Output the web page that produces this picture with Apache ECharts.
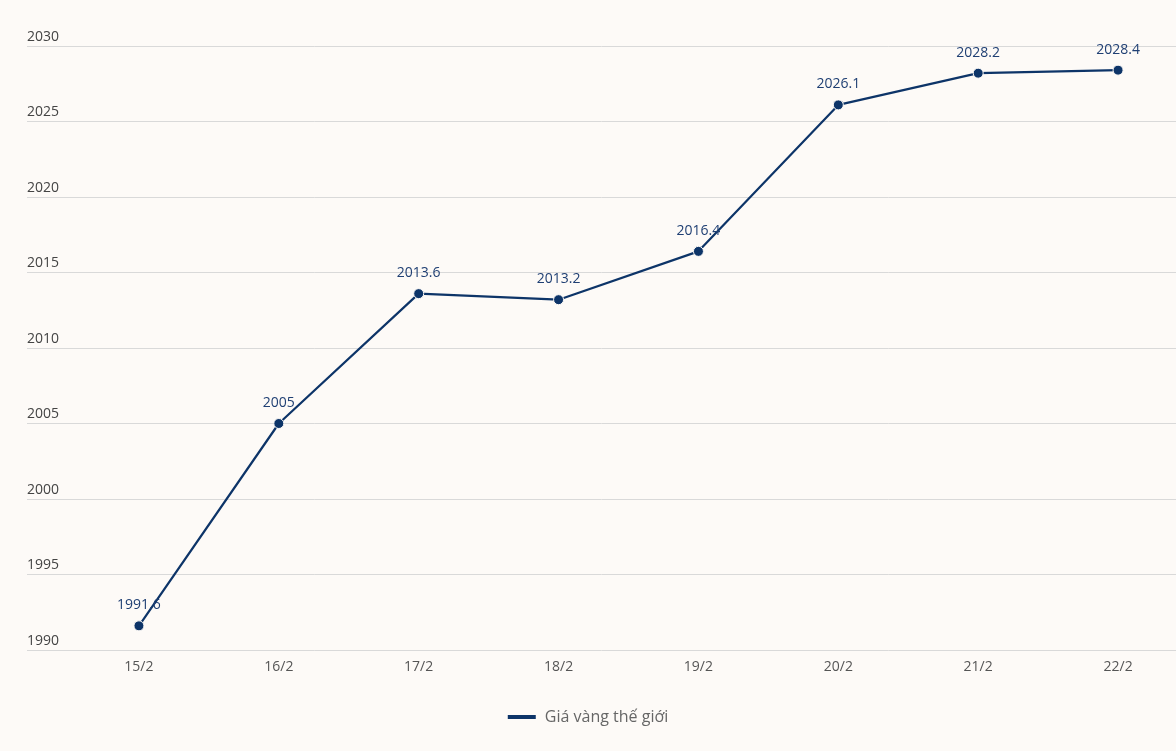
<!DOCTYPE html>
<html><head><meta charset="utf-8">
<script src="https://cdn.jsdelivr.net/npm/echarts@6/dist/echarts.min.js"></script>
<style>html,body{margin:0;padding:0;background:#fdfaf7}#c{width:1176px;height:751px}</style>
</head><body><div id="c"></div>
<script>
const categories = ['15/2','16/2','17/2','18/2','19/2','20/2','21/2','22/2'];
const seriesName = 'Giá vàng thế giới';
const goldPrice = [1991.6, 2005, 2013.6, 2013.2, 2016.4, 2026.1, 2028.2, 2028.4];
const yMin = 1990, yMax = 2030, yStep = 5;

const chart = echarts.init(document.getElementById('c'));
const font = '"Open Sans", "Noto Sans", sans-serif';
chart.setOption({
  backgroundColor: '#fdfaf7',
  textStyle: { fontFamily: font },
  legend: {
    bottom: 21, left: 'center',
    itemWidth: 28, itemHeight: 4, itemGap: 10,
    itemStyle: { color: '#0d3468', borderWidth: 0 },
    lineStyle: { width: 0, opacity: 0 },
    textStyle: { color: '#666', fontSize: 16, fontFamily: font, padding: [0,0,0,4] },
    data: [{ name: seriesName, icon: 'rect' }]
  },
  grid: [
    { left: 27, right: 0, top: 46, bottom: 101, outerBoundsMode: 'none' },
    { left: 69, width: 1119, top: 46, bottom: 101, outerBoundsMode: 'none' }
  ],
  xAxis: [
    { gridIndex: 0, type: 'category', data: categories, show: false },
    { gridIndex: 1, type: 'category', data: categories, boundaryGap: true,
      axisLine: { show: false }, axisTick: { show: false },
      axisLabel: { color: '#555', fontSize: 14, margin: 10, fontFamily: font } }
  ],
  yAxis: [
    { gridIndex: 0, type: 'value', min: yMin, max: yMax, interval: yStep,
      axisLine: { show: false }, axisTick: { show: false },
      splitLine: { lineStyle: { color: '#d9d9d9', width: 1 } },
      axisLabel: { inside: true, margin: 0, verticalAlign: 'bottom', padding: [0,0,2,0],
        color: '#444', fontSize: 14, fontFamily: font, formatter: v => String(v) } },
    { gridIndex: 1, type: 'value', min: yMin, max: yMax, interval: yStep, show: false }
  ],
  series: [{
    name: seriesName, type: 'line', xAxisIndex: 1, yAxisIndex: 1,
    data: goldPrice,
    color: '#0d3468',
    lineStyle: { width: 2.2, color: '#0d3468' },
    symbol: 'circle', symbolSize: 10,
    itemStyle: { color: '#0d3468', borderColor: '#fdfaf7', borderWidth: 1 },
    label: { show: true, position: 'top', distance: 8, color: '#1f3f73', fontSize: 14, fontFamily: font },
    animation: false
  }]
});
</script></body></html>
